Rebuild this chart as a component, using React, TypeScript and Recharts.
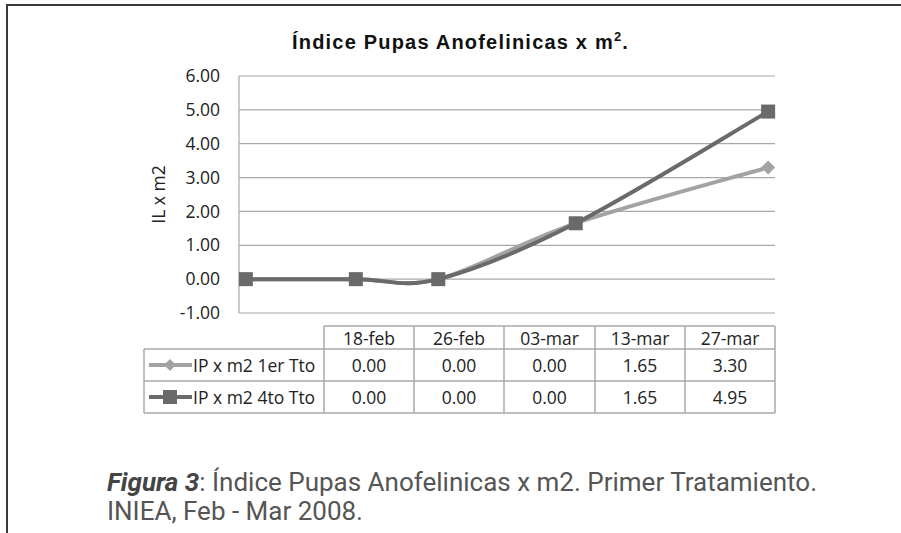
import React from 'react';
import { LineChart, Line, XAxis, YAxis, CartesianGrid, Label } from 'recharts';

const categories = ['18-feb', '26-feb', '03-mar', '13-mar', '27-mar'];
const dates = ['2008-02-18', '2008-02-26', '2008-03-03', '2008-03-13', '2008-03-27'];
const series1 = [0.0, 0.0, 0.0, 1.65, 3.3];
const series2 = [0.0, 0.0, 0.0, 1.65, 4.95];
const seriesNames = ['IP x m2 1er Tto', 'IP x m2 4to Tto'];
const yTicks = [-1, 0, 1, 2, 3, 4, 5, 6];

const DAY = 86400000;
const t0 = Date.parse(dates[0]);
const data = dates.map((d, i) => ({
  day: Math.round((Date.parse(d) - t0) / DAY),
  s1: series1[i],
  s2: series2[i],
}));

const C1 = '#a3a3a3';
const C2 = '#6a6a6a';
const GRID = '#a8a8a8';
const FONT = '"Open Sans", "Noto Sans", sans-serif';
const FS = 17.5;

// Excel-like smoothed line (Catmull-Rom style bezier)
function excelCurve(context: any) {
  let pts: number[][] = [];
  return {
    areaStart() {},
    areaEnd() {},
    lineStart() {
      pts = [];
    },
    lineEnd() {
      const n = pts.length;
      if (!n) return;
      context.moveTo(pts[0][0], pts[0][1]);
      for (let i = 0; i < n - 1; i++) {
        const p0 = pts[Math.max(i - 1, 0)];
        const p1 = pts[i];
        const p2 = pts[i + 1];
        const p3 = pts[Math.min(i + 2, n - 1)];
        const c1x = p1[0] + (p2[0] - p0[0]) / 6;
        const c1y = p1[1] + (p2[1] - p0[1]) / 6;
        const c2x = p2[0] - (p3[0] - p1[0]) / 6;
        const c2y = p2[1] - (p3[1] - p1[1]) / 6;
        context.bezierCurveTo(c1x, c1y, c2x, c2y, p2[0], p2[1]);
      }
    },
    point(x: number, y: number) {
      pts.push([+x, +y]);
    },
  };
}

const SquareDot = (props: any) => {
  const { cx, cy, index } = props;
  if (cx == null || cy == null) return null;
  return <rect key={`sq-${index}`} x={cx - 7} y={cy - 7} width={14} height={14} fill={C2} />;
};

const DiamondDot = (props: any) => {
  const { cx, cy, index } = props;
  if (cx == null || cy == null) return null;
  return (
    <path
      key={`dm-${index}`}
      d={`M${cx},${cy - 7}L${cx + 7},${cy}L${cx},${cy + 7}L${cx - 7},${cy}Z`}
      fill={C1}
    />
  );
};

const colX = [324, 414, 504, 595, 685, 775];
const tableTop = 326;
const rowY = [349, 381, 413];
const labelLeft = 144;

function DataTable() {
  const lines: React.ReactNode[] = [];
  const st = { stroke: GRID, strokeWidth: 1.5 };
  lines.push(<line key="ht" x1={colX[0]} x2={colX[5]} y1={tableTop} y2={tableTop} {...st} />);
  rowY.forEach((y, i) => (
    lines.push(<line key={`h${i}`} x1={labelLeft} x2={colX[5]} y1={y} y2={y} {...st} />)
  ));
  lines.push(<line key="vl" x1={labelLeft} x2={labelLeft} y1={rowY[0]} y2={rowY[2]} {...st} />);
  colX.forEach((x, i) => (
    lines.push(<line key={`v${i}`} x1={x} x2={x} y1={tableTop} y2={rowY[2]} {...st} />)
  ));
  const txt = { fontFamily: FONT, fontSize: FS, fill: '#222' };
  const seriesVals = [series1, series2];
  return (
    <svg width={901} height={533} style={{ position: 'absolute', left: 0, top: 0 }}>
      {lines}
      {categories.map((c, i) => (
        <text key={`c${i}`} x={(colX[i] + colX[i + 1]) / 2} y={(tableTop + rowY[0]) / 2} textAnchor="middle" dominantBaseline="central" {...txt}>
          {c}
        </text>
      ))}
      {seriesVals.map((vals, r) => {
        const cy = (rowY[r] + rowY[r + 1]) / 2;
        const color = r === 0 ? C1 : C2;
        return (
          <g key={`r${r}`}>
            <line x1={149} x2={192} y1={cy} y2={cy} stroke={color} strokeWidth={4} />
            {r === 0 ? (
              <path d={`M170,${cy - 6}L176,${cy}L170,${cy + 6}L164,${cy}Z`} fill={C1} />
            ) : (
              <rect x={163} y={cy - 7} width={14} height={14} fill={C2} />
            )}
            <text x={193} y={cy} dominantBaseline="central" {...txt}>
              {seriesNames[r]}
            </text>
            {vals.map((v, i) => (
              <text key={`v${i}`} x={(colX[i] + colX[i + 1]) / 2} y={cy} textAnchor="middle" dominantBaseline="central" {...txt}>
                {v.toFixed(2)}
              </text>
            ))}
          </g>
        );
      })}
    </svg>
  );
}

export default function App() {
  return (
    <div style={{ position: 'absolute', left: 0, top: 0, width: 901, height: 533, background: '#fff', overflow: 'hidden' }}>
      <div style={{ position: 'absolute', left: 6, top: 4, width: 920, height: 560, borderTop: '2px solid #3a3a3a', borderLeft: '2px solid #3a3a3a' }} />
      <div style={{ position: 'absolute', left: 292, top: 30, whiteSpace: 'nowrap', fontFamily: '"Liberation Sans", Arial, sans-serif', fontWeight: 'bold', fontSize: 20, letterSpacing: 1.2, color: '#111', lineHeight: '24px' }}>
        Índice Pupas Anofelinicas x m<sup style={{ fontSize: 13, verticalAlign: 'top', position: 'relative', top: -5 }}>2</sup>.
      </div>
      <div style={{ position: 'absolute', left: 0, top: 0 }}>
        <LineChart width={901} height={533} data={data} margin={{ top: 76, right: 126, left: 0, bottom: 220 }}>
          <CartesianGrid vertical={false} stroke={GRID} strokeWidth={1.2} />
          <XAxis dataKey="day" type="number" domain={[-0.5, 38.5]} hide />
          <YAxis
            width={239}
            domain={[-1, 6]}
            ticks={yTicks}
            interval={0}
            tickFormatter={(v: number) => v.toFixed(2)}
            tickLine={false}
            tickSize={0}
            tickMargin={19}
            axisLine={{ stroke: GRID, strokeWidth: 1.2 }}
            tick={{ fontFamily: FONT, fontSize: FS, fill: '#222' }}
          >
            <Label value="IL x m2" angle={-90} position="center" dx={39} style={{ fontFamily: FONT, fontSize: FS, fill: '#222', textAnchor: 'middle' }} />
          </YAxis>
          <Line dataKey="s1" type={excelCurve as any} stroke={C1} strokeWidth={4} dot={<DiamondDot />} activeDot={false} isAnimationActive={false} />
          <Line dataKey="s2" type={excelCurve as any} stroke={C2} strokeWidth={4} dot={<SquareDot />} activeDot={false} isAnimationActive={false} />
        </LineChart>
      </div>
      <DataTable />
      <div style={{ position: 'absolute', left: 107, top: 468, fontFamily: 'Roboto, sans-serif', fontSize: 26, color: '#555', lineHeight: '29px', whiteSpace: 'nowrap' }}>
        <div>
          <span style={{ fontWeight: 'bold', fontStyle: 'italic', color: '#444' }}>Figura 3</span>: Índice Pupas Anofelinicas x m2. Primer Tratamiento.
        </div>
        <div>INIEA, Feb - Mar 2008.</div>
      </div>
    </div>
  );
}
